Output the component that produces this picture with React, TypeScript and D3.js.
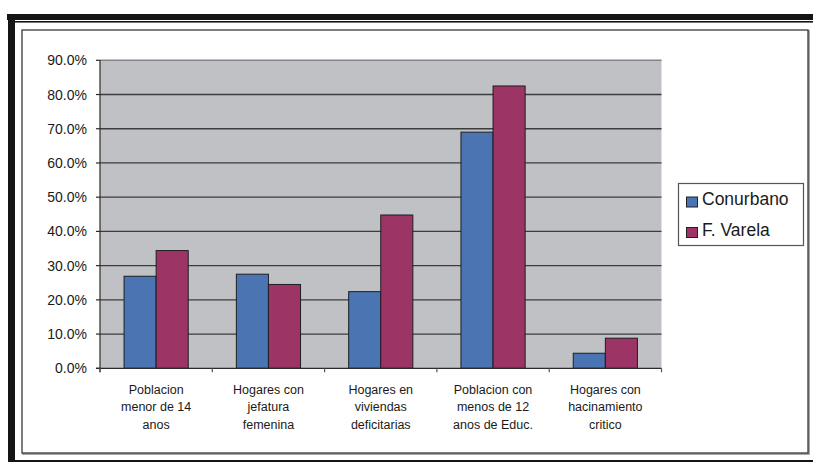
import React, { useEffect, useRef } from 'react';
import * as d3 from 'd3';

const categories = [
  ['Poblacion', 'menor de 14', 'anos'],
  ['Hogares con', 'jefatura', 'femenina'],
  ['Hogares en', 'viviendas', 'deficitarias'],
  ['Poblacion con', 'menos de 12', 'anos de Educ.'],
  ['Hogares con', 'hacinamiento', 'critico'],
];
const seriesNames = ['Conurbano', 'F. Varela'];
const conurbano = [26.9, 27.5, 22.4, 69.0, 4.4];
const varela = [34.4, 24.5, 44.8, 82.5, 8.8];
const yTicks = [0, 10, 20, 30, 40, 50, 60, 70, 80, 90];
const colors = ['#4A74B2', '#9C3465'];

const App: React.FC = () => {
  const ref = useRef<SVGSVGElement>(null);

  useEffect(() => {
    if (!ref.current) return;
    const svg = d3.select(ref.current);
    svg.selectAll('*').remove();

    const font = '"Liberation Sans", Arial, sans-serif';

    // outer frame
    svg.append('rect').attr('x', 7).attr('y', 14).attr('width', 806).attr('height', 6).attr('fill', '#151515');
    svg.append('rect').attr('x', 8).attr('y', 14).attr('width', 7).attr('height', 448).attr('fill', '#151515');
    svg.append('rect').attr('x', 15).attr('y', 21).attr('width', 798).attr('height', 1.6).attr('fill', '#151515');
    svg.append('rect').attr('x', 15).attr('y', 460).attr('width', 798).attr('height', 2).attr('fill', '#151515');
    svg.append('rect').attr('x', 23).attr('y', 31).attr('width', 786).attr('height', 423)
      .attr('fill', 'none').attr('stroke', '#8a8a8a').attr('stroke-width', 1.5);
    svg.append('rect').attr('x', 22).attr('y', 30).attr('width', 786).attr('height', 423)
      .attr('fill', '#fff').attr('stroke', '#3a3a3a').attr('stroke-width', 1.3);

    const left = 100, right = 661.5, top = 60.3, bottom = 368.3;

    const x0 = d3.scaleBand<number>().domain(d3.range(categories.length)).range([left, right]).paddingInner(0).paddingOuter(0);
    const bw = x0.bandwidth() / 3.5;
    const y = d3.scaleLinear().domain([0, 90]).range([bottom, top]);

    const g = svg.append('g');
    g.append('rect').attr('x', left).attr('y', top).attr('width', right - left).attr('height', bottom - top)
      .attr('fill', '#C0C1C5');
    g.append('line').attr('x1', left).attr('x2', right).attr('y1', top).attr('y2', top)
      .attr('stroke', '#80868a').attr('stroke-width', 1.5);

    g.selectAll('.grid').data(yTicks.filter(t => t > 0 && t < 90)).enter().append('line')
      .attr('x1', left).attr('x2', right)
      .attr('y1', d => y(d)).attr('y2', d => y(d))
      .attr('stroke', '#3c3c3e').attr('stroke-width', 1.3);

    const series = [conurbano, varela];
    series.forEach((vals, si) => {
      g.selectAll('.bar' + si).data(vals).enter().append('rect')
        .attr('x', (d, i) => (x0(i) || 0) + 0.75 * bw + si * bw)
        .attr('y', d => y(d))
        .attr('width', bw)
        .attr('height', d => bottom - y(d))
        .attr('fill', colors[si])
        .attr('stroke', '#1e1e24').attr('stroke-width', 1);
    });

    // axes
    g.append('line').attr('x1', left).attr('x2', left).attr('y1', top).attr('y2', bottom + 4)
      .attr('stroke', '#2a2a2a').attr('stroke-width', 1.2);
    g.append('line').attr('x1', left - 4).attr('x2', right).attr('y1', bottom).attr('y2', bottom)
      .attr('stroke', '#2a2a2a').attr('stroke-width', 1.3);

    g.selectAll('.ytick').data(yTicks).enter().append('line')
      .attr('x1', left - 4).attr('x2', left).attr('y1', d => y(d)).attr('y2', d => y(d))
      .attr('stroke', '#2a2a2a').attr('stroke-width', 1.2);
    g.selectAll('.ylabel').data(yTicks).enter().append('text')
      .attr('x', 87).attr('y', d => y(d)).attr('dy', '0.36em')
      .attr('text-anchor', 'end').attr('font-family', font).attr('font-size', 14).attr('fill', '#1a1a1a')
      .text(d => d3.format('.1f')(d) + '%');

    g.selectAll('.xtick').data(d3.range(categories.length + 1)).enter().append('line')
      .attr('x1', i => left + i * x0.bandwidth()).attr('x2', i => left + i * x0.bandwidth())
      .attr('y1', bottom).attr('y2', bottom + 4)
      .attr('stroke', '#555').attr('stroke-width', 1.2);

    categories.forEach((lines, i) => {
      const cx = (x0(i) || 0) + x0.bandwidth() / 2;
      const t = g.append('text').attr('text-anchor', 'middle').attr('font-family', font)
        .attr('font-size', 12.5).attr('fill', '#1a1a1a');
      lines.forEach((ln, li) => {
        t.append('tspan').attr('x', cx).attr('y', 393.5 + li * 17.7).text(ln);
      });
    });

    // legend
    const lg = svg.append('g');
    lg.append('rect').attr('x', 678.5).attr('y', 183.5).attr('width', 125).attr('height', 62)
      .attr('fill', '#fff').attr('stroke', '#555').attr('stroke-width', 1.2);
    seriesNames.forEach((name, i) => {
      const base = 205 + i * 30.5;
      lg.append('rect').attr('x', 686.5).attr('y', base - 8).attr('width', 11).attr('height', 10)
        .attr('fill', colors[i]).attr('stroke', '#222').attr('stroke-width', 1);
      lg.append('text').attr('x', 702).attr('y', base)
        .attr('font-family', font).attr('font-size', 17.5).attr('fill', '#1a1a1a').text(name);
    });
  }, []);

  return (
    <svg ref={ref} width={813} height={462}
      style={{ position: 'absolute', left: 0, top: 0, display: 'block', background: '#fff' }} />
  );
};

export default App;
